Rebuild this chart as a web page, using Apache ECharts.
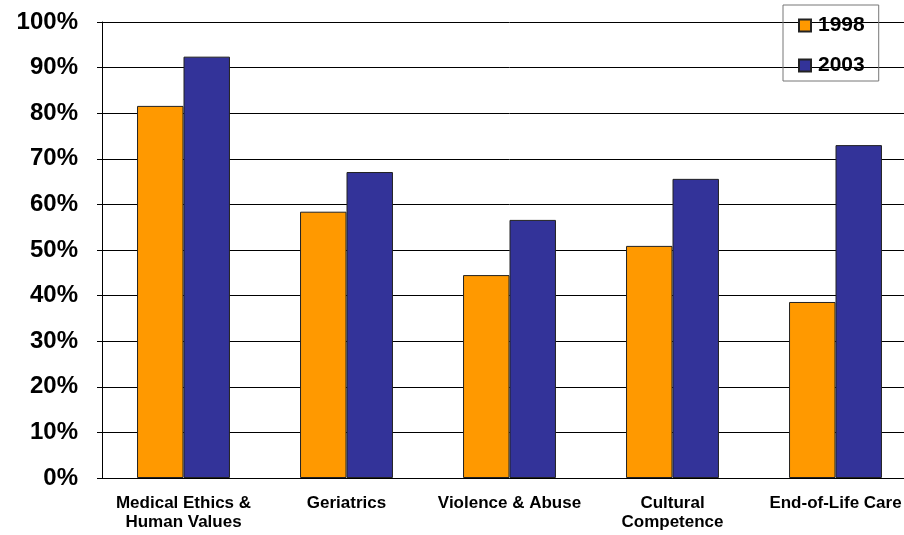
<!DOCTYPE html>
<html><head><meta charset="utf-8">
<script src="https://cdn.jsdelivr.net/npm/echarts@6/dist/echarts.min.js"></script>
<style>html,body{margin:0;padding:0;background:#fff;overflow:hidden;width:904px;height:535px}#c{width:930px;height:535px}</style>
</head><body><div id="c"></div>
<script>
const categories = ['Medical Ethics &\nHuman Values', 'Geriatrics', 'Violence & Abuse', 'Cultural\nCompetence', 'End-of-Life Care'];
const values1998 = [81.6, 58.4, 44.5, 50.9, 38.6];
const values2003 = [92.4, 67.1, 56.6, 65.6, 73.0];
const seriesNames = ['1998', '2003'];
const yTicks = [0, 10, 20, 30, 40, 50, 60, 70, 80, 90, 100];

const chart = echarts.init(document.getElementById('c'));
const font = '"Liberation Sans", Arial, sans-serif';
chart.setOption({
  animation: false,
  textStyle: { fontFamily: font },
  grid: { left: 102, width: 815, top: 22, height: 456, containLabel: false },
  legend: {
    orient: 'vertical', left: 783, top: 5,
    padding: [10, 14, 5, 15], itemGap: 19,
    itemWidth: 12, itemHeight: 12, icon: 'rect',
    borderColor: '#777', borderWidth: 1,
    textStyle: { fontFamily: font, fontWeight: 'bold', fontSize: 21, color: '#000', padding: [0, 0, 0, 2] },
    data: seriesNames
  },
  xAxis: {
    type: 'category', data: categories,
    axisLine: { lineStyle: { color: '#000', width: 1 } },
    axisTick: { length: 6, lineStyle: { color: '#000' } },
    axisLabel: { interval: 0, fontFamily: font, fontWeight: 'bold', fontSize: 17, color: '#000', lineHeight: 19, margin: 16 }
  },
  yAxis: {
    type: 'value', min: 0, max: 100, interval: 10,
    axisLine: { show: true, lineStyle: { color: '#000', width: 1 } },
    axisTick: { show: true, length: 5, lineStyle: { color: '#000' } },
    splitLine: { lineStyle: { color: '#000', width: 1 } },
    axisLabel: {
      fontFamily: font, fontWeight: 'bold', fontSize: 24, color: '#000', margin: 24,
      formatter: v => yTicks.includes(v) ? v + '%' : ''
    }
  },
  series: [
    { name: seriesNames[0], type: 'bar', data: values1998, barGap: '0%', barCategoryGap: '43%',
      itemStyle: { color: '#FF9900', borderColor: '#222', borderWidth: 1 } },
    { name: seriesNames[1], type: 'bar', data: values2003,
      itemStyle: { color: '#333399', borderColor: '#222', borderWidth: 1 } }
  ]
});
</script></body></html>
